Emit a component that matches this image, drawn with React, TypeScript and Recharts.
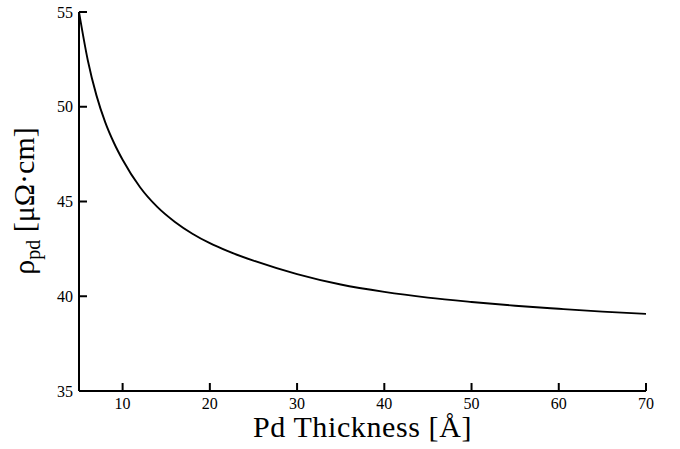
import { LineChart, Line, XAxis, YAxis, Label } from "recharts";

// Pd film thickness [Å] and resistivity [µΩ·cm]
const thickness = [5, 6, 7, 8, 9, 10, 12, 14, 16, 18, 20, 22, 25, 30, 35, 40, 45, 50, 55, 60, 65, 70];
const rho = [55.0, 52.47, 50.6, 49.19, 48.1, 47.2, 45.75, 44.7, 43.92, 43.3, 42.8, 42.39, 41.88, 41.17, 40.62, 40.23, 39.93, 39.7, 39.5, 39.34, 39.19, 39.07];
const xTicks = [10, 20, 30, 40, 50, 60, 70];
const yTicks = [35, 40, 45, 50, 55];

const data = thickness.map((t, i) => ({ t, rho: rho[i] }));

const FONT = "'Liberation Serif', 'Times New Roman', serif";

function TickText({ x, y, payload, textAnchor, orientation }: any) {
  return (
    <text
      x={x}
      y={y}
      dy={orientation === "bottom" ? "0.71em" : "0.355em"}
      textAnchor={textAnchor}
      fontFamily={FONT}
      fontSize={16}
      fill="#000"
    >
      {payload.value}
    </text>
  );
}

export default function App() {
  return (
    <div style={{ position: "absolute", left: 0, top: 0, background: "#fff" }}>
      <LineChart
        width={680}
        height={449}
        data={data}
        margin={{ top: 12, right: 34, bottom: 28, left: 19 }}
        style={{ fontFamily: FONT }}
      >
        <XAxis
          dataKey="t"
          type="number"
          domain={[5, 70]}
          ticks={xTicks}
          height={30}
          tickSize={-8}
          tickMargin={15}
          axisLine={{ stroke: "#000", strokeWidth: 2 }}
          tickLine={{ stroke: "#000", strokeWidth: 2 }}
          tick={<TickText />}
          allowDataOverflow
        >
          <Label
            content={({ viewBox }: any) => (
              <text
                x={viewBox.x + viewBox.width / 2}
                y={437}
                textAnchor="middle"
                fontFamily={FONT}
                fontSize={30}
                letterSpacing={0.6}
                fill="#000"
              >
                Pd Thickness [Å]
              </text>
            )}
          />
        </XAxis>
        <YAxis
          type="number"
          domain={[35, 55]}
          ticks={yTicks}
          width={60}
          tickSize={-8}
          tickMargin={14}
          axisLine={{ stroke: "#000", strokeWidth: 2 }}
          tickLine={{ stroke: "#000", strokeWidth: 2 }}
          tick={<TickText />}
          allowDataOverflow
        >
          <Label
            content={() => (
              <text
                x={34}
                y={201}
                transform="rotate(-90, 34, 201)"
                textAnchor="middle"
                fontFamily={FONT}
                fontSize={30}
                fill="#000"
              >
                ρ
                <tspan fontSize={20} dy={6}>pd</tspan>
                <tspan dy={-6}> [μΩ·cm]</tspan>
              </text>
            )}
          />
        </YAxis>
        <Line
          dataKey="rho"
          type="monotone"
          stroke="#000"
          strokeWidth={1.9}
          dot={false}
          isAnimationActive={false}
        />
      </LineChart>
    </div>
  );
}
